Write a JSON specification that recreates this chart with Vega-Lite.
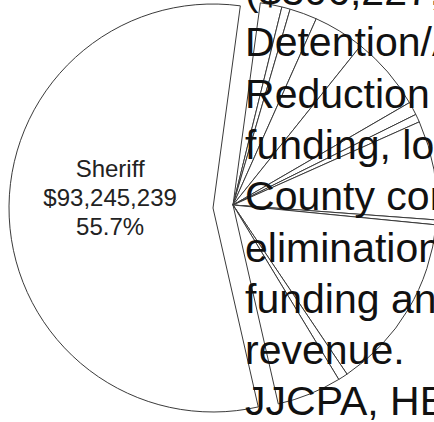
{
  "$schema": "https://vega.github.io/schema/vega-lite/v6.json",
  "autosize": {"type": "none"},
  "width": 412,
  "height": 413,
  "padding": {"left": 17, "top": 0, "right": 5, "bottom": 9},
  "background": "white",
  "config": {"view": {"stroke": null}},
  "datasets": {
    "slices": [
      {"idx": 1, "name": "Other 1", "value": 2867164, "label": ""},
      {"idx": 2, "name": "Other 2", "value": 1112631, "label": ""},
      {"idx": 3, "name": "Other 3", "value": 3637447, "label": ""},
      {"idx": 4, "name": "Other 4", "value": 6804165, "label": ""},
      {"idx": 5, "name": "Other 5", "value": 9842503, "label": ""},
      {"idx": 6, "name": "Other 6", "value": 1754533, "label": ""},
      {"idx": 7, "name": "Other 7", "value": 1069837, "label": ""},
      {"idx": 8, "name": "Other 8", "value": 13137602, "label": ""},
      {"idx": 9, "name": "Other 9", "value": 641902, "label": ""},
      {"idx": 10, "name": "Other 10", "value": 23450833, "label": ""},
      {"idx": 11, "name": "Other 11", "value": 1283805, "label": ""},
      {"idx": 12, "name": "Other 12", "value": 8558698, "label": ""},
      {"idx": 13, "name": "Sheriff", "value": 93245239, "label": "Sheriff\n$93,245,239\n55.7%"}
    ],
    "lines": [
      {"line": 0, "text": " ($306,227,"},
      {"line": 1, "text": "Detention/Alternatives"},
      {"line": 2, "text": "Reduction in"},
      {"line": 3, "text": "funding, loss of"},
      {"line": 4, "text": "County contribution,"},
      {"line": 5, "text": "elimination of"},
      {"line": 6, "text": "funding and"},
      {"line": 7, "text": "revenue."},
      {"line": 8, "text": "JJCPA, HB"}
    ]
  },
  "layer": [
    {
      "data": {"name": "slices"},
      "transform": [
        {"stack": "value", "groupby": [], "sort": [{"field": "idx", "order": "ascending"}], "as": ["v0", "v1"]},
        {"filter": "datum.name !== 'Sheriff'"}
      ],
      "mark": {"type": "arc", "fill": "white", "stroke": "#3a3a3a", "strokeWidth": 1, "outerRadius": 204, "xOffset": 10, "yOffset": -1.5},
      "encoding": {
        "theta": {"field": "v0", "type": "quantitative", "stack": null, "scale": {"domain": [0, 167406359], "range": [0.1344, 6.4176]}},
        "theta2": {"field": "v1"}
      }
    },
    {
      "data": {"name": "slices"},
      "transform": [
        {"stack": "value", "groupby": [], "sort": [{"field": "idx", "order": "ascending"}], "as": ["v0", "v1"]},
        {"filter": "datum.name === 'Sheriff'"}
      ],
      "mark": {"type": "arc", "fill": "white", "stroke": "#3a3a3a", "strokeWidth": 1, "outerRadius": 204, "xOffset": -10, "yOffset": 1.5},
      "encoding": {
        "theta": {"field": "v0", "type": "quantitative", "stack": null},
        "theta2": {"field": "v1"}
      }
    },
    {
      "data": {"name": "slices"},
      "mark": {"type": "text", "radius": 103, "xOffset": -10, "yOffset": 1.5, "dy": -43, "font": "Liberation Sans", "fontSize": 24, "lineHeight": 29, "lineBreak": "\n", "align": "center", "baseline": "middle", "color": "#222222"},
      "encoding": {
        "theta": {"field": "value", "type": "quantitative", "stack": true},
        "order": {"field": "idx", "type": "quantitative"},
        "text": {"field": "label", "type": "nominal"}
      }
    },
    {
      "data": {"name": "lines"},
      "mark": {"type": "text", "font": "Liberation Sans", "fontSize": 41, "align": "left", "baseline": "alphabetic", "color": "#111111"},
      "encoding": {
        "x": {"datum": 0, "type": "quantitative", "scale": {"domain": [-1.24, 1], "nice": false, "zero": false}, "axis": null},
        "y": {"field": "line", "type": "quantitative", "scale": {"domain": [-0.0975, 7.953], "reverse": true, "zero": false, "nice": false}, "axis": null},
        "text": {"field": "text", "type": "nominal"}
      }
    }
  ]
}
